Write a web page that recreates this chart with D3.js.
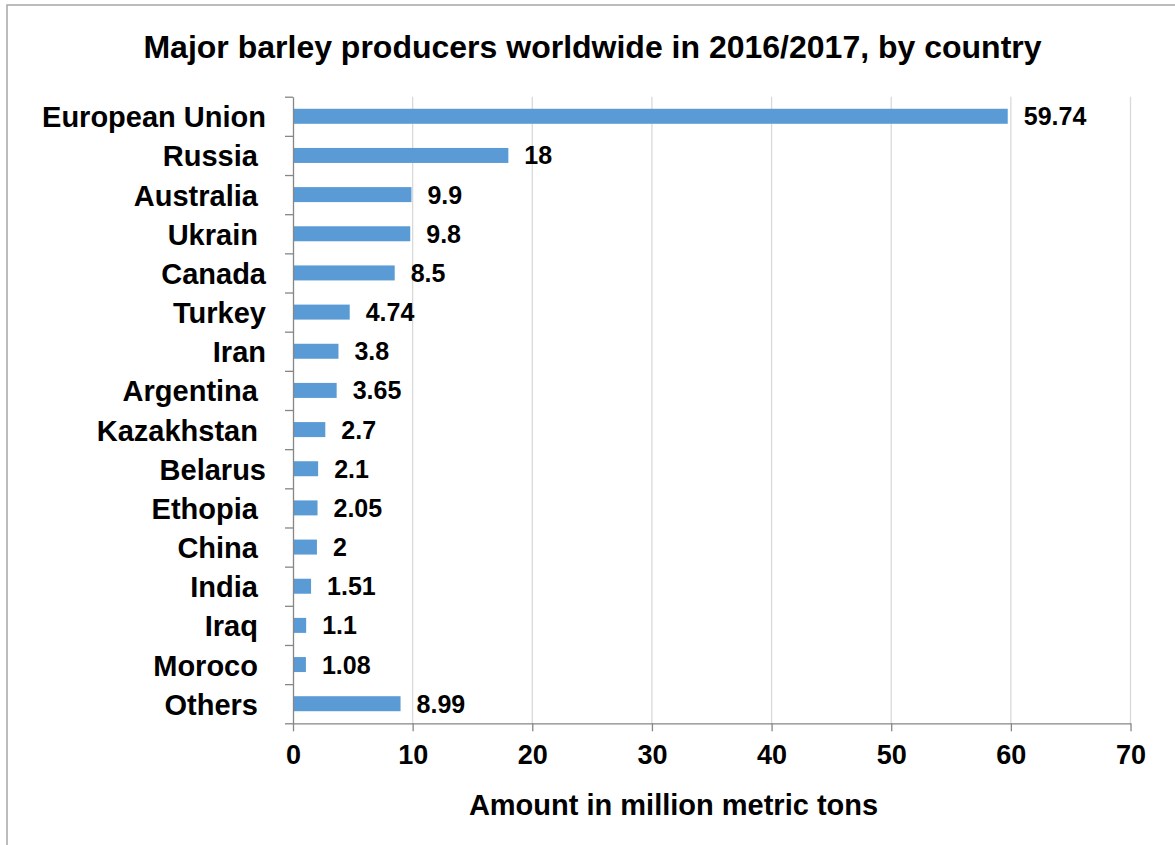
<!DOCTYPE html>
<html>
<head>
<meta charset="utf-8">
<script src="https://cdn.jsdelivr.net/npm/d3@7"></script>
<style>
  html, body { margin: 0; padding: 0; background: #fff; }
  svg { display: block; font-family: "Liberation Sans", Arial, sans-serif; }
  text { white-space: pre; }
</style>
</head>
<body>
<svg id="chart" width="1175" height="845"></svg>
<script>
// ---- data ----
const categories = ["European Union", "Russia ", "Australia ", "Ukrain ", "Canada", "Turkey", "Iran", "Argentina ",
  "Kazakhstan ", "Belarus", "Ethopia ", "China ", "India ", "Iraq ", "Moroco ", "Others "];
const values = [59.74, 18, 9.9, 9.8, 8.5, 4.74, 3.8, 3.65, 2.7, 2.1, 2.05, 2, 1.51, 1.1, 1.08, 8.99];
const valueLabels = ["59.74", "18", "9.9", "9.8", "8.5", "4.74", "3.8", "3.65", "2.7", "2.1", "2.05", "2", "1.51", "1.1", "1.08", "8.99"];
const xTicks = [0, 10, 20, 30, 40, 50, 60, 70];
const title = "Major barley producers worldwide in 2016/2017, by country";
const xTitle = "Amount in million metric tons";

// ---- layout ----
const svg = d3.select("#chart");
const plotLeft = 293, plotRight = 1130.5, plotTop = 96.7, plotBottom = 723.3;

svg.append("rect").attr("x", 7).attr("y", 5).attr("width", 1200).attr("height", 900)
  .attr("fill", "none").attr("stroke", "#a6a6a6").attr("stroke-width", 1.5);

const x = d3.scaleLinear().domain([0, 70]).range([plotLeft, plotRight]);
const y = d3.scaleBand().domain(d3.range(categories.length)).range([plotTop, plotBottom])
  .paddingInner(0.617).paddingOuter(0.3085);
const yIdx = d3.scaleLinear().domain([0, categories.length]).range([plotTop, plotBottom]);

// gridlines
svg.append("g").selectAll("line").data(xTicks.filter(d => d > 0)).join("line")
  .attr("x1", d => x(d)).attr("x2", d => x(d)).attr("y1", plotTop).attr("y2", plotBottom)
  .attr("stroke", "#d9d9d9").attr("stroke-width", 1.3);

// bars
svg.append("g").selectAll("rect").data(values).join("rect")
  .attr("x", x(0)).attr("y", (d, i) => y(i))
  .attr("width", d => x(d) - x(0)).attr("height", y.bandwidth())
  .attr("fill", "#5b9bd5");

// x axis
const xAxis = svg.append("g").attr("transform", `translate(0,${plotBottom})`)
  .call(d3.axisBottom(x).tickValues(xTicks).tickSize(8).tickSizeOuter(0).tickPadding(14));
xAxis.select(".domain").attr("stroke", "#868686").attr("stroke-width", 1.3);
xAxis.selectAll(".tick line").attr("stroke", "#868686").attr("stroke-width", 1.3);
xAxis.selectAll(".tick text").attr("font-size", 27).attr("font-weight", "bold")
  .attr("fill", "#000").attr("font-family", "Liberation Sans, Arial, sans-serif");

// y axis (tick marks at band boundaries)
const yAxis = svg.append("g").attr("transform", `translate(${plotLeft},0)`)
  .call(d3.axisLeft(yIdx).tickValues(d3.range(categories.length + 1)).tickSize(8).tickSizeOuter(0).tickFormat(""));
yAxis.select(".domain").attr("stroke", "#868686").attr("stroke-width", 1.3);
yAxis.selectAll(".tick line").attr("stroke", "#868686").attr("stroke-width", 1.3);

// category labels
svg.append("g").selectAll("text").data(categories).join("text")
  .attr("x", 266).attr("y", (d, i) => y(i) + y.bandwidth() / 2 + 11)
  .attr("text-anchor", "end").attr("font-size", 29).attr("font-weight", "bold")
  .attr("fill", "#000").text(d => d);

// value labels
svg.append("g").selectAll("text").data(values).join("text")
  .attr("x", d => x(d) + 16).attr("y", (d, i) => y(i) + y.bandwidth() / 2 + 9)
  .attr("font-size", 25).attr("font-weight", "bold").attr("fill", "#000")
  .text((d, i) => valueLabels[i]);

// title
svg.append("text").attr("x", 592.5).attr("y", 58).attr("text-anchor", "middle")
  .attr("font-size", 32).attr("font-weight", "bold").attr("fill", "#000").text(title);

// x axis title
svg.append("text").attr("x", 673.5).attr("y", 815).attr("text-anchor", "middle")
  .attr("font-size", 29).attr("font-weight", "bold").attr("fill", "#000").text(xTitle);
</script>
</body>
</html>
